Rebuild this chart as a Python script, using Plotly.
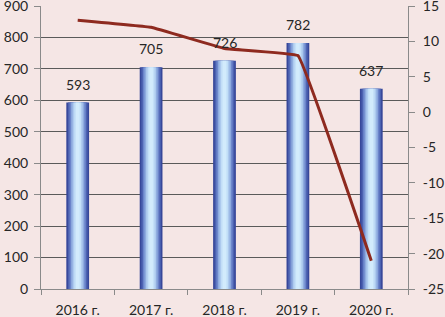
import plotly.graph_objects as go

categories = ["2016 г.", "2017 г.", "2018 г.", "2019 г.", "2020 г."]
bar_values = [593, 705, 726, 782, 637]
line_values = [13, 12, 9, 8, -21]
left_ticks = [0, 100, 200, 300, 400, 500, 600, 700, 800, 900]
right_ticks = [-25, -20, -15, -10, -5, 0, 5, 10, 15]

BG = "#f5e6e5"
FONT = dict(family="Lato, Carlito, 'Liberation Sans', sans-serif", size=14, color="#262626")

fig = go.Figure()

# layered bars to imitate a horizontal cylinder gradient
layers = [
    (1.00, "#37479a"),
    (0.86, "#4c62b1"),
    (0.72, "#6b84ca"),
    (0.58, "#8eabdf"),
    (0.44, "#adcaee"),
    (0.30, "#c4e0f8"),
    (0.16, "#d2ebfc"),
]
base_w = 0.31
for frac, col in layers:
    fig.add_trace(go.Bar(
        x=categories, y=bar_values, width=base_w * frac,
        marker=dict(color=col, line=dict(width=0)),
        hoverinfo="skip", showlegend=False, yaxis="y",
    ))

fig.add_trace(go.Scatter(
    x=categories, y=line_values, yaxis="y2", mode="lines",
    line=dict(color="#8e2a1f", width=3, shape="spline", smoothing=0.15),
    showlegend=False,
))

for c, v in zip(categories, bar_values):
    fig.add_annotation(x=c, y=v, text=str(v), showarrow=False, yref="y",
                       yanchor="bottom", yshift=8, font=FONT)

fig.update_layout(
    width=445, height=317,
    margin=dict(l=41, r=37, t=6, b=28),
    paper_bgcolor=BG, plot_bgcolor=BG,
    barmode="overlay",
    font=FONT,
    xaxis=dict(type="category", showline=True, linecolor="#8a8a8a", linewidth=1,
               ticks="outside", tickson="boundaries", ticklen=5, tickcolor="#8a8a8a",
               showgrid=False, range=[-0.5, 4.5], tickfont=FONT, automargin=False,
               ticklabelstandoff=8),
    yaxis=dict(range=[0, 900], tickvals=left_ticks, ticktext=[str(t) for t in left_ticks],
               showline=True, linecolor="#8a8a8a",
               ticks="outside", ticklen=6, tickcolor="#8a8a8a",
               showgrid=True, gridcolor="#5a5a5a", gridwidth=1,
               zeroline=False, tickfont=FONT, automargin=False,
               ticklabeloverflow="allow", ticklabelstandoff=3),
    yaxis2=dict(range=[-25, 15], tickvals=right_ticks, ticktext=[str(t) for t in right_ticks],
                overlaying="y", side="right",
                showline=True, linecolor="#8a8a8a", ticks="outside", ticklen=6,
                tickcolor="#8a8a8a", showgrid=False, zeroline=False, tickfont=FONT,
                automargin=False, ticklabeloverflow="allow", ticklabelstandoff=5),
)

fig.write_html("out.html", config={"displayModeBar": False},
               post_script="document.body.style.margin='0';document.body.style.overflow='hidden';")
